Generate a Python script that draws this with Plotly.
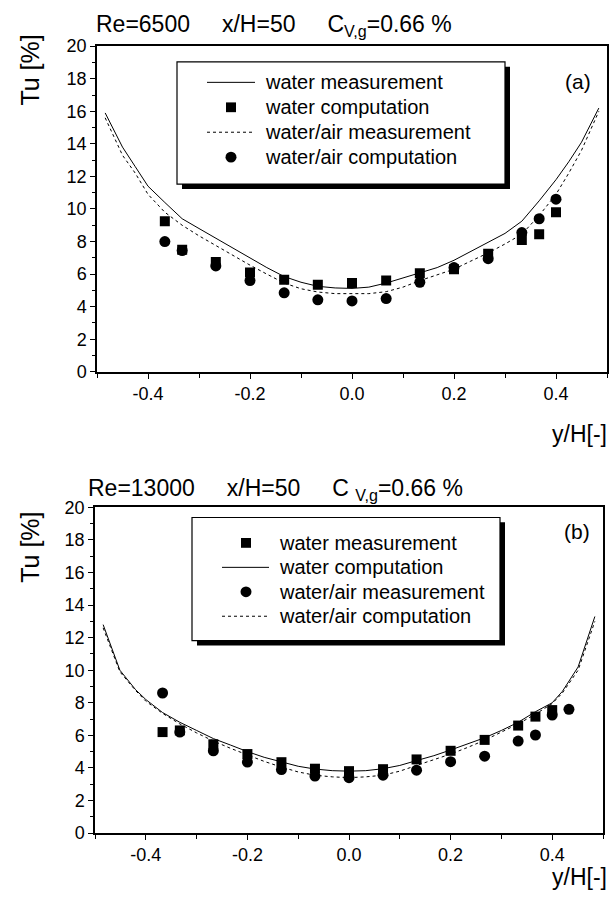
import plotly.graph_objects as go

W, H = 612, 901

# ---------------- Panel (a): Re=6500 ----------------
xa_pts = [-0.367, -0.333, -0.267, -0.2, -0.133, -0.067, 0.0, 0.067, 0.133, 0.2, 0.267, 0.333, 0.367, 0.4]
a_water_comp = [9.25, 7.5, 6.75, 6.1, 5.65, 5.35, 5.45, 5.6, 6.05, 6.3, 7.25, 8.1, 8.45, 9.8]
a_air_comp = [8.0, 7.45, 6.5, 5.6, 4.85, 4.42, 4.35, 4.5, 5.5, 6.4, 6.95, 8.55, 9.4, 10.6]

xa_curve = [-0.484, -0.45, -0.425, -0.4, -0.367, -0.333, -0.3, -0.267, -0.233, -0.2, -0.167,
            -0.133, -0.1, -0.067, -0.033, 0.0, 0.033, 0.067, 0.1, 0.133, 0.167, 0.2, 0.233,
            0.267, 0.3, 0.333, 0.367, 0.4, 0.425, 0.45, 0.484]
a_water_meas = [15.9, 13.8, 12.6, 11.4, 10.4, 9.4, 8.8, 8.2, 7.6, 6.95, 6.4, 5.85, 5.5, 5.25,
                5.15, 5.12, 5.2, 5.45, 5.75, 6.05, 6.4, 6.85, 7.4, 7.95, 8.5, 9.25, 10.5, 11.8,
                12.9, 14.1, 16.2]
a_air_meas = [15.6, 13.3, 12.2, 10.9, 9.8, 9.0, 8.35, 7.75, 7.15, 6.55, 6.0, 5.45, 5.1, 4.9,
              4.8, 4.78, 4.8, 4.92, 5.2, 5.6, 5.95, 6.3, 6.8, 7.3, 7.85, 8.45, 9.6, 10.9, 12.2,
              13.6, 16.0]

# ---------------- Panel (b): Re=13000 ----------------
xb_sq = [-0.367, -0.333, -0.267, -0.2, -0.133, -0.067, 0.0, 0.067, 0.133, 0.2, 0.267, 0.333, 0.367, 0.4]
b_water_meas = [6.2, 6.3, 5.45, 4.85, 4.35, 3.95, 3.8, 3.92, 4.52, 5.05, 5.72, 6.6, 7.15, 7.55]
xb_ci = [-0.367, -0.333, -0.267, -0.2, -0.133, -0.067, 0.0, 0.067, 0.133, 0.2, 0.267, 0.333, 0.367, 0.4, 0.433]
b_air_meas = [8.6, 6.2, 5.05, 4.36, 3.9, 3.5, 3.4, 3.55, 3.86, 4.38, 4.72, 5.65, 6.02, 7.25, 7.6]

xb_curve = [-0.484, -0.451, -0.42, -0.4, -0.367, -0.333, -0.3, -0.267, -0.233, -0.2, -0.167,
            -0.133, -0.1, -0.067, -0.033, 0.0, 0.033, 0.067, 0.1, 0.133, 0.167, 0.2, 0.233,
            0.267, 0.3, 0.333, 0.367, 0.4, 0.42, 0.451, 0.484]
b_water_comp = [12.8, 10.0, 8.8, 8.2, 7.4, 6.8, 6.3, 5.8, 5.4, 5.0, 4.65, 4.35, 4.1, 3.93, 3.83,
                3.8, 3.83, 3.95, 4.15, 4.45, 4.75, 5.1, 5.45, 5.85, 6.3, 6.8, 7.45, 8.0, 8.7,
                10.2, 13.3]
b_air_comp = [12.6, 9.9, 8.75, 8.1, 7.35, 6.7, 6.15, 5.65, 5.2, 4.8, 4.4, 4.05, 3.75, 3.55, 3.45,
              3.4, 3.45, 3.55, 3.8, 4.15, 4.5, 4.85, 5.25, 5.7, 6.2, 6.7, 7.3, 7.95, 8.6, 10.0,
              13.0]

# ---------------- Ticks & labels ----------------
x_tickvals = [-0.4, -0.2, 0.0, 0.2, 0.4]
x_ticktext = ["-0.4", "-0.2", "0.0", "0.2", "0.4"]
y_tickvals = [0, 2, 4, 6, 8, 10, 12, 14, 16, 18, 20]

legend_a_labels = ["water measurement", "water computation", "water/air measurement", "water/air computation"]
legend_a_kinds = ["solid", "square", "dot", "circle"]
legend_b_labels = ["water measurement", "water computation", "water/air measurement", "water/air computation"]
legend_b_kinds = ["square", "solid", "circle", "dot"]

FONT = "Liberation Sans, Arial, Helvetica, sans-serif"
BLACK = "#000000"


def px(x):
    return x / W


def py(y):
    return 1 - y / H


fig = go.Figure()


def line_trace(x, y, dash, xa, ya):
    return go.Scatter(x=x, y=y, mode="lines", line=dict(color=BLACK, width=1, dash=dash),
                      xaxis=xa, yaxis=ya, showlegend=False, hoverinfo="skip")


def marker_trace(x, y, symbol, size, xa, ya):
    return go.Scatter(x=x, y=y, mode="markers",
                      marker=dict(symbol=symbol, size=size, color=BLACK, line=dict(width=0)),
                      xaxis=xa, yaxis=ya, showlegend=False, hoverinfo="skip")


# panel (a)
fig.add_trace(line_trace(xa_curve, a_water_meas, "solid", "x", "y"))
fig.add_trace(line_trace(xa_curve, a_air_meas, "dot", "x", "y"))
fig.add_trace(marker_trace(xa_pts, a_water_comp, "square", 10, "x", "y"))
fig.add_trace(marker_trace(xa_pts, a_air_comp, "circle", 11, "x", "y"))

# panel (b)
fig.add_trace(line_trace(xb_curve, b_water_comp, "solid", "x2", "y2"))
fig.add_trace(line_trace(xb_curve, b_air_comp, "dot", "x2", "y2"))
fig.add_trace(marker_trace(xb_sq, b_water_meas, "square", 10, "x2", "y2"))
fig.add_trace(marker_trace(xb_ci, b_air_meas, "circle", 11, "x2", "y2"))

xaxis_style = dict(range=[-0.5, 0.5], tickmode="array", tickvals=x_tickvals, ticktext=x_ticktext,
                   showline=True, linecolor=BLACK, linewidth=1.5, mirror=True,
                   ticks="outside", ticklen=5, tickwidth=1.2, tickcolor=BLACK,
                   minor=dict(ticks="outside", ticklen=4, tickwidth=1.2, tickcolor=BLACK,
                              tick0=-0.5, dtick=0.1),
                   showgrid=False, zeroline=False,
                   tickfont=dict(family=FONT, size=18, color=BLACK))
yaxis_style = dict(range=[0, 20], tickmode="array", tickvals=y_tickvals,
                   showline=True, linecolor=BLACK, linewidth=1.5, mirror=True,
                   ticks="outside", ticklen=5, tickwidth=1.2, tickcolor=BLACK,
                   minor=dict(ticks="outside", ticklen=3, tickwidth=1.2, tickcolor=BLACK,
                              tick0=0, dtick=1),
                   showgrid=False, zeroline=False,
                   tickfont=dict(family=FONT, size=18, color=BLACK))

fig.update_layout(
    width=W, height=H, margin=dict(l=0, r=0, t=0, b=0),
    paper_bgcolor="white", plot_bgcolor="white",
    showlegend=False,
    xaxis=dict(domain=[px(97), px(607)], anchor="y", **xaxis_style),
    yaxis=dict(domain=[py(370), py(37)], anchor="x", **yaxis_style),
    xaxis2=dict(domain=[px(95), px(603)], anchor="y2", **xaxis_style),
    yaxis2=dict(domain=[py(841.7), py(508.7)], anchor="x2", **yaxis_style),
)

NB = "\u00a0"
annotations = []


def ann(text, x, y, size, xanchor="center", yanchor="middle", angle=0):
    annotations.append(dict(text=text, x=px(x), y=py(y), xref="paper", yref="paper",
                            xanchor=xanchor, yanchor=yanchor, showarrow=False, textangle=angle,
                            font=dict(family=FONT, size=size, color=BLACK)))


gap = NB * 5
ann("Re=6500" + gap + "x/H=50" + gap + "C<sub>V,g</sub>=0.66 %", 94, 16, 23, xanchor="left")
ann("Re=13000" + gap + "x/H=50" + gap + "C " + "<sub>V,g</sub>=0.66 %", 86, 490, 23, xanchor="left")
ann("Tu [%]", 30, 62, 25, angle=-90)
ann("Tu [%]", 30, 550, 25, angle=-90)
ann("y/H[-]", 609, 434, 23, xanchor="right")
ann("y/H[-]", 609, 887, 23, xanchor="right")
ann("(a)", 578, 73, 21)
ann("(b)", 577, 533, 21)

shapes = []


def legend_block(box, line_x, marker_x, text_x, y0, dy, labels, kinds):
    x0, y_top, x1, y_bot = box
    sh = 5
    shapes.append(dict(type="rect", xref="paper", yref="paper", x0=px(x0 + sh), x1=px(x1 + sh),
                       y0=py(y_bot + sh), y1=py(y_top + sh), fillcolor=BLACK,
                       line=dict(width=0), layer="above"))
    shapes.append(dict(type="rect", xref="paper", yref="paper", x0=px(x0), x1=px(x1),
                       y0=py(y_bot), y1=py(y_top), fillcolor="white",
                       line=dict(color=BLACK, width=1.2), layer="above"))
    for i, (lab, kind) in enumerate(zip(labels, kinds)):
        yc = y0 + i * dy
        if kind in ("solid", "dot"):
            shapes.append(dict(type="line", xref="paper", yref="paper",
                               x0=px(line_x[0]), x1=px(line_x[1]), y0=py(yc), y1=py(yc),
                               line=dict(color=BLACK, width=1, dash=kind), layer="above"))
        elif kind == "square":
            r = 5
            shapes.append(dict(type="rect", xref="paper", yref="paper",
                               x0=px(marker_x - r), x1=px(marker_x + r),
                               y0=py(yc + r), y1=py(yc - r), fillcolor=BLACK,
                               line=dict(width=0), layer="above"))
        else:
            r = 5.5
            shapes.append(dict(type="circle", xref="paper", yref="paper",
                               x0=px(marker_x - r), x1=px(marker_x + r),
                               y0=py(yc + r), y1=py(yc - r), fillcolor=BLACK,
                               line=dict(width=0), layer="above"))
        ann(lab, text_x, yc, 20, xanchor="left")


legend_block((177, 53, 505, 178), (207, 255), 231, 263, 74, 25.5, legend_a_labels, legend_a_kinds)
legend_block((192, 519, 500, 645), (222, 269), 246, 277, 545, 25, legend_b_labels, legend_b_kinds)

fig.update_layout(annotations=annotations, shapes=shapes)

fig.write_html("out.html")
